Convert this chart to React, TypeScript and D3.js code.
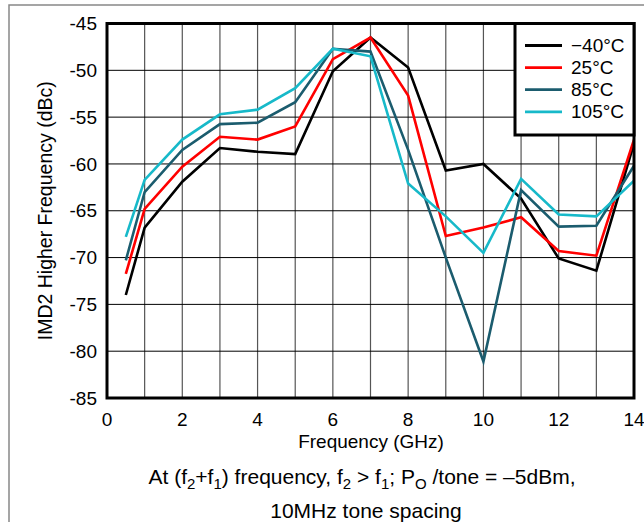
import React from "react";
import * as d3 from "d3";

const freqs = [0.5, 1, 2, 3, 4, 5, 6, 7, 8, 9, 10, 11, 12, 13, 14];
const seriesNames = ["\u221240\u00b0C", "25\u00b0C", "85\u00b0C", "105\u00b0C"];
const seriesColors = ["#000000", "#ff0000", "#1b5c6e", "#17b9c9"];
const minus40 = [-74.0, -66.8, -61.9, -58.3, -58.7, -58.95, -50.1, -46.5, -49.7, -60.7, -60.0, -63.7, -70.1, -71.4, -57.8];
const plus25 = [-71.75, -64.8, -60.3, -57.1, -57.4, -56.0, -48.8, -46.5, -52.7, -67.7, -66.8, -65.7, -69.3, -69.8, -57.4];
const plus85 = [-70.3, -63.0, -58.5, -55.75, -55.6, -53.4, -47.7, -48.0, -58.5, -70.0, -81.1, -62.8, -66.7, -66.6, -60.2];
const plus105 = [-67.8, -61.7, -57.4, -54.7, -54.2, -51.9, -47.7, -48.5, -62.1, -65.6, -69.5, -61.6, -65.4, -65.6, -61.8];
const seriesValues = [minus40, plus25, plus85, plus105];
const xTicks = [0, 2, 4, 6, 8, 10, 12, 14];
const xGrid = d3.range(0, 15, 1);
const yTicks = [-45, -50, -55, -60, -65, -70, -75, -80, -85];

const FONT = "'Liberation Sans', Arial, Helvetica, sans-serif";

export default function App() {
  const W = 644, H = 522;
  const L = 107, R = 634, T = 23.5, B = 398;
  const x = d3.scaleLinear().domain([0, 14]).range([L, R]);
  const y = d3.scaleLinear().domain([-85, -45]).range([B, T]);
  const line = d3.line<[number, number]>().x(d => x(d[0])).y(d => y(d[1]));
  const fs = 19;
  const cfs = 21;
  const sub = 15;

  return (
    <svg width={W} height={H} style={{ position: "absolute", left: 0, top: 0, background: "#fff" }} fontFamily={FONT}>
      <defs>
        <clipPath id="plotclip">
          <rect x={L} y={T} width={R - L} height={B - T} />
        </clipPath>
      </defs>
      <rect x={9} y={5} width={700} height={600} fill="none" stroke="#888" strokeWidth={1.5} />
      {xGrid.map(v => (
        <line key={"vx" + v} x1={x(v)} x2={x(v)} y1={T} y2={B} stroke="#555" strokeWidth={1.2} />
      ))}
      {yTicks.map(v => (
        <line key={"hy" + v} x1={L} x2={R} y1={y(v)} y2={y(v)} stroke="#000" strokeWidth={1} />
      ))}
      <g clipPath="url(#plotclip)">
        {seriesValues.map((vals, i) => (
          <path
            key={seriesNames[i]}
            d={line(freqs.map((f, j) => [f, vals[j]] as [number, number])) || ""}
            fill="none"
            stroke={seriesColors[i]}
            strokeWidth={2.6}
            strokeLinejoin="miter"
          />
        ))}
      </g>
      <rect x={L} y={T} width={R - L} height={B - T} fill="none" stroke="#000" strokeWidth={3} />
      <g>
        <rect x={515} y={T} width={R - 515} height={135 - T} fill="#fff" stroke="#000" strokeWidth={3} />
        {seriesNames.map((n, i) => (
          <g key={n} transform={`translate(0, ${45.5 + i * 22.1})`}>
            <line x1={525} x2={562} y1={0} y2={0} stroke={seriesColors[i]} strokeWidth={2.8} />
            <text x={571} y={0} dy="0.35em" fontSize={fs} fill="#000">{n}</text>
          </g>
        ))}
      </g>
      {yTicks.map(v => (
        <text key={"yt" + v} x={97} y={y(v)} dy="0.35em" textAnchor="end" fontSize={fs}>{v}</text>
      ))}
      {xTicks.map(v => (
        <text key={"xt" + v} x={x(v)} y={419} dy="0.35em" textAnchor="middle" fontSize={fs}>{v}</text>
      ))}
      <text x={371} y={448} textAnchor="middle" fontSize={fs}>Frequency (GHz)</text>
      <text transform={`translate(45, ${(T + B) / 2}) rotate(-90)`} textAnchor="middle" dy="0.35em" fontSize={19.5}>
        IMD2 Higher Frequency (dBc)
      </text>
      <text x={362} y={484} textAnchor="middle" fontSize={cfs}>
        At (f<tspan fontSize={sub} dy="5">2</tspan><tspan dy="-5">+f</tspan><tspan fontSize={sub} dy="5">1</tspan>
        <tspan dy="-5">) frequency, f</tspan><tspan fontSize={sub} dy="5">2</tspan><tspan dy="-5"> &gt; f</tspan>
        <tspan fontSize={sub} dy="5">1</tspan><tspan dy="-5">; P</tspan><tspan fontSize={sub} dy="5">O</tspan>
        <tspan dy="-5"> /tone = {"\u2013"}5dBm,</tspan>
      </text>
      <text x={366} y={518} textAnchor="middle" fontSize={cfs}>10MHz tone spacing</text>
    </svg>
  );
}
